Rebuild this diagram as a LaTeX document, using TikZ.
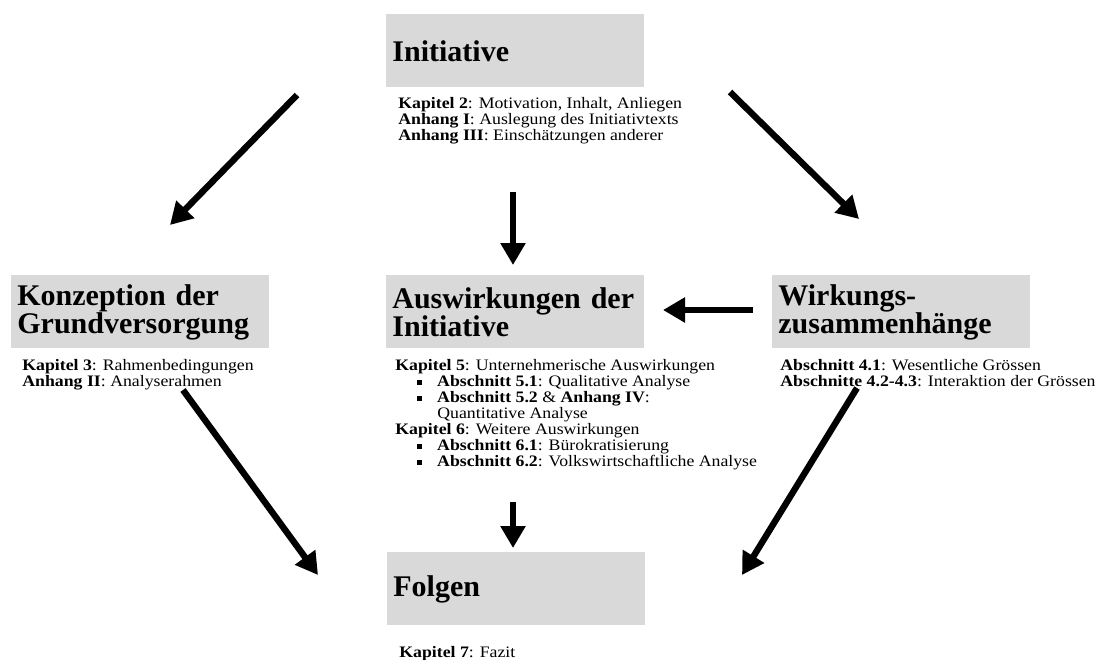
\documentclass[tikz,border=0pt]{standalone}
\usepackage{fontspec}
\setmainfont{Liberation Serif}
\newfontfamily\reffont{Liberation Serif}[FakeStretch=1.11]
\usetikzlibrary{arrows.meta}
\definecolor{boxgray}{HTML}{D9D9D9}
\newcommand{\sqbullet}{\rule[0.8pt]{2.4pt}{2.4pt}}

\begin{document}
\begin{tikzpicture}[x=0.5pt,y=-0.5pt]
\tikzstyle{title box} = [fill=boxgray, anchor=north west, minimum width=129pt, minimum height=36.5pt, text width=123pt, inner xsep=3pt, inner ysep=0pt, align=left, font=\fontsize{15}{14}\selectfont\bfseries]
\tikzstyle{chapter text} = [anchor=north west, inner sep=0pt, align=left, font=\reffont\fontsize{8}{8}\selectfont]
\tikzstyle{flow arrow} = [draw, color=black, line width=3.2pt, -{Triangle[length=11pt,width=12pt]}]
\useasboundingbox (0,0) rectangle (1111,659);
% boxes
\node[title box] (b_1) at (386,14) {Initiative};
\node[title box] (b_2) at (11,275) {Konzeption der\\Grundversorgung};
\node[title box] (b_3) at (386,275) {Auswirkungen der\\Initiative};
\node[title box] (b_4) at (772,275) {Wirkungs-\\zusammenhänge};
\node[title box] (b_5) at (387,552) {Folgen};
% chapter references
\node[chapter text] (t_1) at (398,97) {\textbf{Kapitel 2}: Motivation, Inhalt, Anliegen\\
  \textbf{Anhang I}: Auslegung des Initiativtexts\\
  \textbf{Anhang III}: Einschätzungen anderer};
\node[chapter text] (t_2) at (22,359) {\textbf{Kapitel 3}: Rahmenbedingungen\\
  \textbf{Anhang II}: Analyserahmen};
\node[chapter text] (t_3) at (395,359) {\textbf{Kapitel 5}: Unternehmerische Auswirkungen\\
  \hspace*{11pt}\sqbullet\hspace{7.5pt}\textbf{Abschnitt 5.1}: Qualitative Analyse\\
  \hspace*{11pt}\sqbullet\hspace{7.5pt}\textbf{Abschnitt 5.2} \& \textbf{Anhang IV}:\\
  \hspace*{21pt}Quantitative Analyse\\
  \textbf{Kapitel 6}: Weitere Auswirkungen\\
  \hspace*{11pt}\sqbullet\hspace{7.5pt}\textbf{Abschnitt 6.1}: Bürokratisierung\\
  \hspace*{11pt}\sqbullet\hspace{7.5pt}\textbf{Abschnitt 6.2}: Volkswirtschaftliche Analyse};
\node[chapter text] (t_4) at (780,359) {\textbf{Abschnitt 4.1}: Wesentliche Grössen\\
  \textbf{Abschnitte 4.2-4.3}: Interaktion der Grössen};
\node[chapter text] (t_5) at (399,646) {\textbf{Kapitel 7}: Fazit};
% arrow end points
\coordinate (c_1) at (297,95);
\coordinate (c_2) at (170,225);
\coordinate (c_3) at (730,92);
\coordinate (c_4) at (859,219);
\coordinate (c_5) at (513,192);
\coordinate (c_6) at (513,265);
\coordinate (c_7) at (753,310);
\coordinate (c_8) at (663,310);
\coordinate (c_9) at (513,502);
\coordinate (c_10) at (513,548);
\coordinate (c_11) at (183,390);
\coordinate (c_12) at (318,575);
\coordinate (c_13) at (857,388);
\coordinate (c_14) at (742,575);
% arrows
\path[flow arrow] (c_1) -- (c_2);
\path[flow arrow] (c_3) -- (c_4);
\path[flow arrow] (c_5) -- (c_6);
\path[flow arrow] (c_7) -- (c_8);
\path[flow arrow] (c_9) -- (c_10);
\path[flow arrow] (c_11) -- (c_12);
\path[flow arrow] (c_13) -- (c_14);
\end{tikzpicture}
\end{document}
